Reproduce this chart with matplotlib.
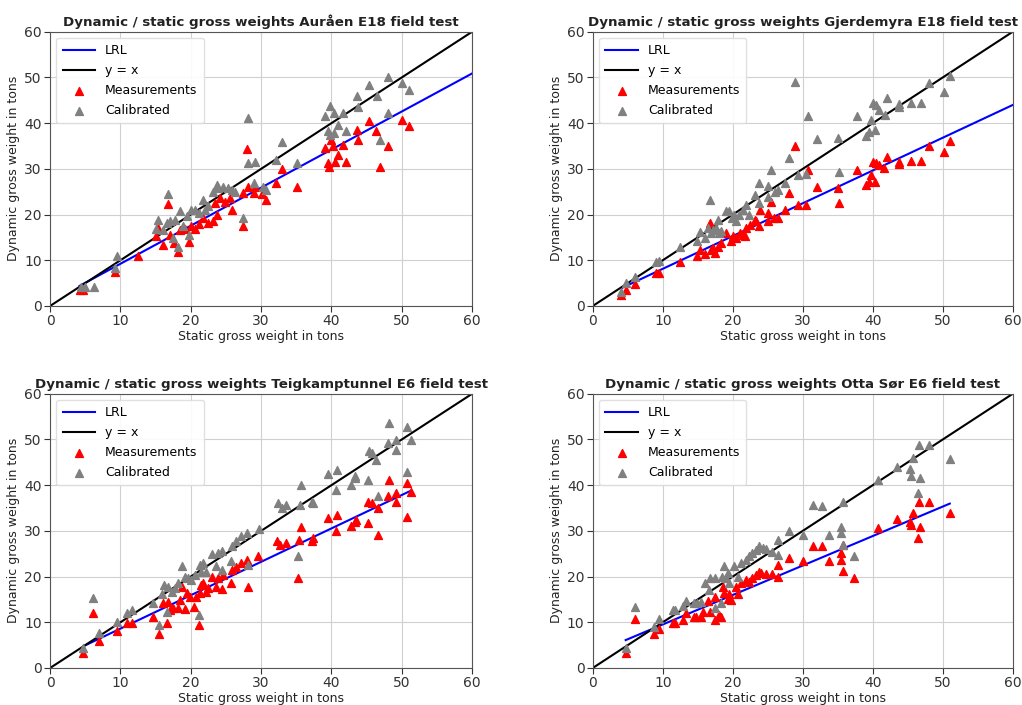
import matplotlib
matplotlib.use("Agg")
import matplotlib.pyplot as plt
import numpy as np

plt.rcParams['font.family'] = ['DejaVu Sans']

# ---- Auråen E18 ----
a_meas_x = [4.2, 4.7, 9.2, 12.5, 15.0, 15.4, 16.1, 16.7, 17.0, 17.6, 18.2, 18.5, 19.2, 19.8, 20.1,
            20.6, 21.2, 21.8, 22.5, 23.2, 23.7, 23.4, 24.1, 24.8, 25.6, 25.9, 27.4, 27.4, 28.0, 28.2,
            29.0, 29.2, 30.1, 30.7, 32.1, 32.9, 35.1, 39.1, 39.5, 39.7, 40.0, 40.2, 40.5, 40.9, 41.6,
            42.0, 43.6, 43.8, 45.4, 46.4, 46.9, 48.0, 50.0, 51.0]
a_meas_y = [3.6, 3.6, 7.5, 11.0, 15.2, 17.0, 13.4, 22.3, 15.5, 13.7, 11.9, 16.6, 16.8, 14.1, 17.4,
            16.8, 17.9, 19.2, 18.2, 18.5, 19.9, 22.5, 23.6, 22.8, 23.6, 21.0, 24.7, 17.4, 34.3, 26.1,
            24.7, 26.1, 24.5, 23.2, 26.9, 30.0, 26.0, 34.5, 31.2, 30.5, 36.4, 34.9, 31.6, 33.1, 35.3,
            31.6, 38.5, 36.4, 40.4, 38.3, 30.3, 35.1, 40.6, 39.3]
a_cal_x = [4.4, 4.9, 6.2, 9.5, 9.2, 15.0, 15.4, 16.1, 16.6, 16.7, 17.1, 17.5, 17.7, 18.2, 18.4,
           18.9, 19.4, 19.8, 20.1, 20.6, 21.1, 21.8, 22.0, 22.5, 23.2, 23.7, 23.9, 24.6, 25.3, 25.8,
           26.3, 27.4, 28.1, 28.2, 29.0, 29.2, 30.3, 30.7, 32.1, 32.9, 35.1, 39.1, 39.8, 39.8, 39.5,
           40.3, 40.3, 40.9, 41.6, 42.0, 43.6, 43.8, 45.3, 46.5, 46.9, 48.0, 48.1, 50.0, 51.0]
a_cal_y = [4.1, 4.1, 4.1, 11.0, 8.2, 16.8, 18.8, 16.6, 18.1, 24.5, 18.5, 14.8, 18.8, 13.0, 20.8,
           17.4, 19.6, 15.5, 21.0, 21.0, 20.4, 23.2, 21.0, 21.8, 25.0, 26.5, 25.8, 26.1, 25.8, 25.4,
           25.0, 19.2, 41.1, 31.2, 26.9, 31.6, 26.1, 25.4, 32.0, 35.8, 31.2, 41.5, 43.8, 37.4, 38.2,
           42.2, 37.8, 39.6, 42.2, 38.2, 46.0, 43.6, 48.4, 46.0, 36.4, 42.2, 50.0, 48.8, 47.3]

# ---- Gjerdemyra E18 ----
g_meas_x = [4.1, 4.7, 6.1, 9.1, 9.5, 12.5, 14.9, 15.3, 16.0, 16.7, 16.9, 17.2, 17.5, 17.9, 18.3,
            19.1, 19.8, 20.1, 20.5, 21.0, 21.4, 21.8, 21.9, 22.5, 23.2, 23.3, 23.8, 23.9, 25.0, 25.1,
            25.5, 25.9, 26.4, 27.5, 28.1, 28.9, 29.3, 30.5, 30.7, 32.1, 35.1, 35.2, 37.8, 39.1, 39.5,
            39.7, 40.0, 40.3, 40.5, 40.9, 41.6, 42.1, 43.7, 43.8, 45.4, 46.9, 48.1, 50.2, 51.0]
g_meas_y = [2.4, 3.6, 4.8, 7.3, 7.3, 9.7, 11.0, 12.3, 11.4, 18.1, 12.3, 12.6, 11.5, 13.0, 13.7,
            15.9, 14.3, 15.2, 14.8, 15.9, 15.5, 15.2, 17.0, 17.7, 18.8, 18.5, 17.4, 21.0, 18.5, 20.3,
            22.8, 19.2, 19.2, 21.0, 24.8, 35.1, 22.1, 22.1, 29.8, 26.1, 25.8, 22.6, 29.8, 26.5, 27.2,
            28.7, 31.6, 27.2, 31.2, 30.9, 30.1, 32.6, 31.6, 31.1, 31.8, 31.8, 35.0, 33.6, 36.0]
g_cal_x = [4.1, 4.7, 6.1, 9.1, 9.5, 12.5, 14.9, 15.3, 16.1, 16.4, 16.8, 16.9, 17.2, 17.6, 17.9,
           18.1, 18.3, 19.1, 19.5, 19.9, 20.2, 20.5, 20.9, 21.5, 21.9, 22.3, 23.2, 23.7, 23.8, 25.0,
           25.1, 25.5, 26.1, 26.4, 27.5, 28.1, 28.9, 29.3, 30.5, 30.7, 32.1, 35.1, 35.2, 37.8, 39.1,
           39.5, 39.7, 40.0, 40.3, 40.5, 40.9, 41.8, 42.1, 43.7, 43.8, 45.4, 46.9, 48.1, 50.2, 51.0]
g_cal_y = [3.1, 5.0, 6.3, 9.6, 9.9, 12.8, 14.3, 16.1, 14.8, 17.0, 23.2, 15.9, 16.6, 17.0, 18.8,
           15.9, 16.3, 20.7, 20.7, 19.2, 19.9, 18.5, 19.9, 21.0, 22.1, 19.9, 24.3, 22.6, 27.0, 26.3,
           23.9, 29.8, 25.0, 25.4, 26.9, 32.3, 48.9, 28.7, 28.8, 41.6, 36.5, 36.7, 29.4, 41.6, 37.2,
           38.0, 40.7, 44.5, 38.5, 44.0, 42.9, 41.8, 45.5, 43.6, 44.2, 44.4, 44.4, 48.8, 46.9, 50.4]

# ---- Teigkamptunnel E6 ----
t_meas_x = [4.7, 6.1, 7.0, 9.5, 10.9, 11.6, 14.7, 15.5, 16.0, 16.6, 16.7, 17.1, 17.5, 18.2, 18.5,
            18.8, 19.2, 19.5, 19.9, 20.4, 20.8, 21.2, 21.3, 21.5, 21.8, 22.1, 22.5, 23.0, 23.6, 23.9,
            24.4, 24.6, 25.7, 25.8, 26.5, 27.2, 28.0, 28.2, 29.6, 32.2, 32.7, 33.6, 35.3, 35.4, 35.6,
            37.2, 37.4, 39.5, 40.7, 40.8, 42.8, 43.3, 43.5, 45.2, 45.2, 45.8, 46.6, 46.6, 48.0, 48.2,
            49.2, 49.2, 50.7, 50.7, 51.3]
t_meas_y = [3.2, 12.1, 6.0, 8.0, 9.8, 9.9, 11.2, 7.4, 14.2, 9.8, 14.5, 12.7, 13.1, 13.1, 14.9,
            17.8, 12.8, 16.4, 15.6, 13.4, 15.6, 9.4, 16.4, 18.2, 18.5, 16.7, 17.4, 20.0, 17.8, 19.6,
            17.2, 20.4, 18.7, 21.5, 22.2, 22.9, 23.6, 17.8, 24.4, 27.7, 26.9, 27.3, 19.6, 27.9, 30.9,
            27.7, 28.4, 32.8, 29.9, 33.5, 31.1, 32.0, 32.4, 31.7, 36.4, 36.0, 35.0, 29.1, 37.7, 41.2,
            38.2, 36.4, 40.4, 33.1, 38.6]
t_cal_x = [4.7, 6.1, 7.0, 9.5, 10.9, 11.6, 14.7, 15.5, 15.9, 16.2, 16.6, 16.8, 17.4, 17.7, 18.2,
           18.8, 19.2, 19.6, 20.1, 20.6, 21.2, 21.3, 21.5, 21.8, 22.2, 23.0, 23.6, 23.9, 24.5, 24.5,
           25.7, 25.8, 26.5, 27.2, 28.0, 28.2, 29.7, 32.4, 33.0, 33.6, 35.3, 35.5, 35.7, 37.2, 37.4,
           39.5, 40.6, 40.8, 42.8, 43.3, 43.4, 45.2, 45.3, 45.7, 46.4, 46.6, 48.0, 48.2, 49.2, 49.2,
           50.7, 50.7, 51.3]
t_cal_y = [4.3, 15.3, 7.6, 10.1, 12.1, 12.7, 14.2, 9.3, 16.2, 18.2, 12.3, 17.8, 16.7, 17.4, 18.5,
           22.3, 20.0, 19.6, 19.3, 20.4, 11.6, 22.6, 21.1, 22.9, 21.1, 25.0, 22.3, 25.1, 25.5, 21.5,
           23.3, 26.6, 27.7, 28.8, 29.5, 22.6, 30.4, 36.1, 35.0, 35.7, 24.5, 35.7, 40.1, 36.4, 36.1,
           42.5, 39.0, 43.4, 40.1, 41.9, 41.5, 41.2, 47.4, 47.0, 45.5, 37.7, 49.2, 53.6, 49.9, 47.7,
           52.7, 42.8, 49.9]

# ---- Otta Sør E6 ----
o_meas_x = [4.7, 6.1, 8.8, 9.5, 11.4, 11.7, 12.9, 13.3, 14.4, 14.8, 15.5, 15.7, 16.4, 16.8, 17.4,
            17.5, 18.1, 18.3, 18.6, 18.8, 19.3, 19.5, 19.8, 20.4, 20.8, 21.2, 21.9, 22.3, 22.8, 23.3,
            23.8, 24.0, 24.7, 25.6, 26.4, 26.5, 28.0, 30.0, 31.5, 32.7, 33.8, 35.4, 35.4, 35.7, 35.8,
            37.3, 40.7, 43.5, 45.3, 45.4, 45.7, 46.4, 46.6, 46.7, 48.1, 51.0]
o_meas_y = [3.2, 10.7, 7.4, 8.5, 9.8, 9.8, 10.5, 12.1, 11.2, 11.2, 11.2, 12.3, 14.7, 12.3, 10.5,
            15.5, 11.6, 11.2, 17.8, 16.4, 15.0, 16.2, 14.9, 17.7, 16.2, 18.5, 19.3, 18.9, 19.6, 20.4,
            21.1, 20.7, 20.6, 20.6, 22.6, 19.9, 24.0, 23.4, 26.6, 26.6, 23.3, 25.1, 23.6, 26.9, 21.3,
            19.6, 30.7, 32.6, 32.0, 31.3, 34.0, 28.4, 36.4, 30.9, 36.4, 34.0]
o_cal_x = [4.7, 6.1, 8.8, 9.5, 11.4, 11.7, 12.9, 13.3, 14.4, 14.9, 15.5, 16.0, 16.6, 16.8, 17.4,
           17.4, 18.3, 18.5, 18.7, 19.0, 19.3, 19.4, 20.2, 20.8, 21.2, 21.9, 22.3, 22.8, 23.3, 23.8,
           24.3, 24.7, 25.6, 26.4, 26.5, 28.0, 30.0, 31.5, 32.7, 33.8, 35.4, 35.4, 35.7, 35.8, 37.3,
           40.7, 43.5, 45.3, 45.4, 45.7, 46.4, 46.6, 46.7, 48.1, 51.0]
o_cal_y = [4.3, 13.4, 8.9, 10.7, 12.7, 12.6, 13.6, 14.7, 14.2, 14.2, 14.5, 18.5, 17.1, 19.6, 19.6,
           13.1, 14.3, 20.0, 22.3, 19.6, 20.7, 18.7, 22.3, 19.9, 22.9, 23.6, 24.4, 25.1, 25.8, 26.6,
           26.2, 26.0, 25.3, 28.0, 24.7, 29.9, 29.1, 35.7, 35.5, 29.0, 30.8, 29.5, 36.4, 26.9, 24.4,
           41.2, 43.9, 43.6, 42.0, 45.9, 38.2, 48.8, 41.5, 48.8, 45.7]

titles = ["Dynamic / static gross weights Auråen E18 field test",
          "Dynamic / static gross weights Gjerdemyra E18 field test",
          "Dynamic / static gross weights Teigkamptunnel E6 field test",
          "Dynamic / static gross weights Otta Sør E6 field test"]

# LRL: slope, intercept, x start, x end
lrl_slope = [0.833, 0.717, 0.731, 0.645]
lrl_icpt = [0.9, 0.96, 1.3, 3.07]
lrl_x0 = [4.2, 4.1, 4.8, 4.7]
lrl_x1 = [60, 60, 51.3, 51.0]

meas = [(a_meas_x, a_meas_y), (g_meas_x, g_meas_y), (t_meas_x, t_meas_y), (o_meas_x, o_meas_y)]
cal = [(a_cal_x, a_cal_y), (g_cal_x, g_cal_y), (t_cal_x, t_cal_y), (o_cal_x, o_cal_y)]

fig = plt.figure(figsize=(10.22, 7.05), dpi=100)
positions = [[0.049, 0.566, 0.413, 0.389], [0.580, 0.566, 0.411, 0.389],
             [0.049, 0.0525, 0.413, 0.389], [0.580, 0.0525, 0.411, 0.389]]

for i in range(4):
    ax = fig.add_axes(positions[i])
    xl = np.array([lrl_x0[i], lrl_x1[i]])
    ax.plot(xl, lrl_slope[i] * xl + lrl_icpt[i], color='blue', lw=1.5, label='LRL')
    ax.plot([0, 60], [0, 60], color='black', lw=1.5, label='y = x')
    ax.scatter(meas[i][0], meas[i][1], marker='^', s=32, color='red', label='Measurements', zorder=3)
    ax.scatter(cal[i][0], cal[i][1], marker='^', s=32, color='gray', label='Calibrated', zorder=3)
    ax.set_xlim(0, 60)
    ax.set_ylim(0, 60)
    ax.set_xticks(range(0, 61, 10))
    ax.set_yticks(range(0, 61, 10))
    ax.grid(True, color='#d0d0d0', lw=0.8)
    ax.set_axisbelow(True)
    for sp in ax.spines.values():
        sp.set_color('#555555')
    ax.tick_params(colors='#333333', labelsize=10, length=4, pad=2)
    ax.set_title(titles[i], fontsize=9.6, fontweight='bold', color='#222222', pad=4)
    ax.set_xlabel('Static gross weight in tons', fontsize=9, color='#222222', labelpad=1)
    ax.set_ylabel('Dynamic gross weight in tons', fontsize=9, color='#222222', labelpad=3)
    ax.legend(loc='upper left', fontsize=9, framealpha=0.9, edgecolor='#dddddd',
              labelspacing=0.55, handlelength=2.6, borderpad=0.5)

fig.savefig('out.png', dpi=100)
